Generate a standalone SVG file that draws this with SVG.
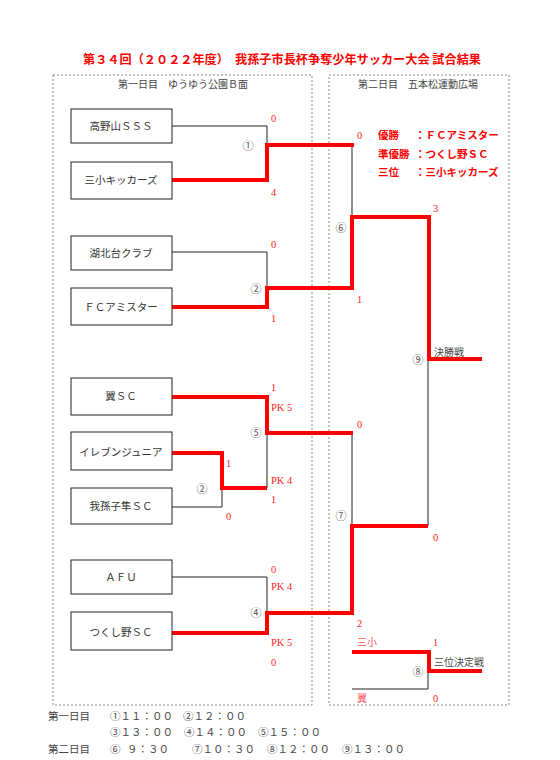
<svg xmlns="http://www.w3.org/2000/svg" width="560" height="760" viewBox="0 0 560 760">
<style>
.bg{fill:#fff}
.frame{fill:none;stroke:#888;stroke-width:1;stroke-dasharray:2,2}
.box{fill:#fff;stroke:#222;stroke-width:1}
.team{font-family:"Liberation Serif","Noto Sans CJK JP",serif;font-size:10.5px;fill:#333;text-anchor:middle}
.hdr{font-family:"Liberation Serif","Noto Sans CJK JP",serif;font-size:10px;fill:#444;text-anchor:middle}
.title{font-family:"Noto Sans CJK JP",sans-serif;font-size:12px;font-weight:bold;fill:#f00;text-anchor:middle}
.res{font-family:"Noto Sans CJK JP",sans-serif;font-size:10.5px;font-weight:bold;fill:#f00}
.sc{font-family:"Liberation Serif","Noto Sans CJK JP",serif;font-size:10.5px;fill:#f22}
.num{font-family:"Noto Sans CJK JP",sans-serif;font-size:11px;fill:#555;text-anchor:middle}
.lbl{font-family:"Noto Sans CJK JP",sans-serif;font-size:10px;fill:#444}
.time{font-family:"Liberation Serif","Noto Sans CJK JP",serif;font-size:10.5px;fill:#444}
.blk{fill:none;stroke:#222;stroke-width:1}
.red{fill:none;stroke:#f00;stroke-width:4;stroke-linejoin:miter}
</style>
<rect class="bg" x="0" y="0" width="560" height="760"/>
<text class="title" x="282" y="64" textLength="398" lengthAdjust="spacingAndGlyphs">第３４回（２０２２年度）　我孫子市長杯争奪少年サッカー大会 試合結果</text>
<rect class="frame" x="53" y="75" width="259" height="630"/>
<rect class="frame" x="329" y="75" width="180" height="630"/>
<text class="hdr" x="183" y="88">第一日目　ゆうゆう公園Ｂ面</text>
<text class="hdr" x="418" y="88">第二日目　五本松運動広場</text>

<g id="connectors">
<path class="blk" d="M172,126 H267 V145"/>
<path class="blk" d="M172,252 H267 V288"/>
<path class="blk" d="M352,145 V217"/>
<path class="blk" d="M267,433 V488"/>
<path class="blk" d="M172,507 H222 V488"/>
<path class="blk" d="M352,433 V526"/>
<path class="blk" d="M428,359 V526"/>
<path class="blk" d="M172,577 H267 V613"/>
<path class="blk" d="M352,689 H428 V671"/>
<path class="red" d="M172,180 H267 V145 H354"/>
<path class="red" d="M172,307 H267 V288 H352 V217 H429 V359 H482"/>
<path class="red" d="M172,397 H267 V433 H353"/>
<path class="red" d="M172,453 H222 V488 H267"/>
<path class="red" d="M172,633 H267 V613 H352 V526 H428"/>
<path class="red" d="M352,652 H429 V671 H482"/>
</g>

<g id="team-takanoyama"><rect class="box" x="71" y="109" width="101" height="34"/><text class="team" x="121" y="130">高野山ＳＳＳ</text></g>
<g id="team-sansho"><rect class="box" x="71" y="162" width="101" height="37"/><text class="team" x="121" y="184">三小キッカーズ</text></g>
<g id="team-kohokudai"><rect class="box" x="71" y="236" width="101" height="34"/><text class="team" x="121" y="257">湖北台クラブ</text></g>
<g id="team-fc"><rect class="box" x="71" y="288" width="101" height="37"/><text class="team" x="121" y="311">ＦＣアミスター</text></g>
<g id="team-tsubasa"><rect class="box" x="71" y="378" width="101" height="37"/><text class="team" x="121" y="400">翼ＳＣ</text></g>
<g id="team-eleven"><rect class="box" x="71" y="432" width="101" height="38"/><text class="team" x="121" y="456">イレブンジュニア</text></g>
<g id="team-hayabusa"><rect class="box" x="71" y="488" width="101" height="36"/><text class="team" x="121" y="510">我孫子隼ＳＣ</text></g>
<g id="team-afu"><rect class="box" x="71" y="560" width="101" height="34"/><text class="team" x="121" y="581">ＡＦＵ</text></g>
<g id="team-tsukushino"><rect class="box" x="71" y="612" width="101" height="38"/><text class="team" x="121" y="636">つくし野ＳＣ</text></g>

<g id="match1"><text class="num" x="248" y="150">①</text><text class="sc" x="271" y="122">0</text><text class="sc" x="271" y="196">4</text></g>
<g id="match2"><text class="num" x="256" y="293">②</text><text class="sc" x="271" y="248">0</text><text class="sc" x="271" y="322">1</text></g>
<g id="match3"><text class="num" x="202" y="493">②</text><text class="sc" x="226" y="467">1</text><text class="sc" x="226" y="520">0</text></g>
<g id="match5"><text class="num" x="256" y="437">⑤</text><text class="sc" x="271" y="391">1</text><text class="sc" x="271" y="411">PK 5</text><text class="sc" x="271" y="484">PK 4</text><text class="sc" x="271" y="503">1</text></g>
<g id="match4"><text class="num" x="256" y="617">④</text><text class="sc" x="271" y="573">0</text><text class="sc" x="271" y="590">PK 4</text><text class="sc" x="271" y="646">PK 5</text><text class="sc" x="271" y="666">0</text></g>
<g id="match6"><text class="num" x="341" y="232">⑥</text><text class="sc" x="357" y="139">0</text><text class="sc" x="357" y="303">1</text></g>
<g id="match7"><text class="num" x="341" y="520">⑦</text><text class="sc" x="357" y="428">0</text><text class="sc" x="357" y="627">2</text></g>
<g id="match9"><text class="num" x="418" y="364">⑨</text><text class="lbl" x="434" y="356">決勝戦</text><text class="sc" x="433" y="212">3</text><text class="sc" x="433" y="541">0</text></g>
<g id="match8"><text class="num" x="418" y="676">⑧</text><text class="lbl" x="434" y="666">三位決定戦</text><text class="sc" x="357" y="646" style="fill:#f55;font-family:'Noto Sans CJK JP',sans-serif;font-size:10px">三小</text><text class="sc" x="357" y="702" style="fill:#f55;font-family:'Noto Sans CJK JP',sans-serif;font-size:10px">翼</text><text class="sc" x="433" y="646">1</text><text class="sc" x="433" y="702">0</text></g>

<g id="results">
<text class="res" x="378" y="139">優勝</text><text class="res" x="415" y="139">：ＦＣアミスター</text>
<text class="res" x="378" y="158">準優勝</text><text class="res" x="415" y="158">：つくし野ＳＣ</text>
<text class="res" x="378" y="176">三位</text><text class="res" x="415" y="176">：三小キッカーズ</text>
</g>

<g id="schedule">
<text class="time" x="48" y="720">第一日目</text>
<text class="time" x="110" y="720">①１１：００</text><text class="time" x="183" y="720">②１２：００</text>
<text class="time" x="110" y="736">③１３：００</text><text class="time" x="184" y="736">④１４：００</text><text class="time" x="258" y="736">⑤１５：００</text>
<text class="time" x="48" y="753">第二日目</text>
<text class="time" x="110" y="753">⑥</text><text class="time" x="127" y="753">９：３０</text><text class="time" x="192" y="753">⑦１０：３０</text><text class="time" x="267" y="753">⑧１２：００</text><text class="time" x="342" y="753">⑨１３：００</text>
</g>
</svg>
